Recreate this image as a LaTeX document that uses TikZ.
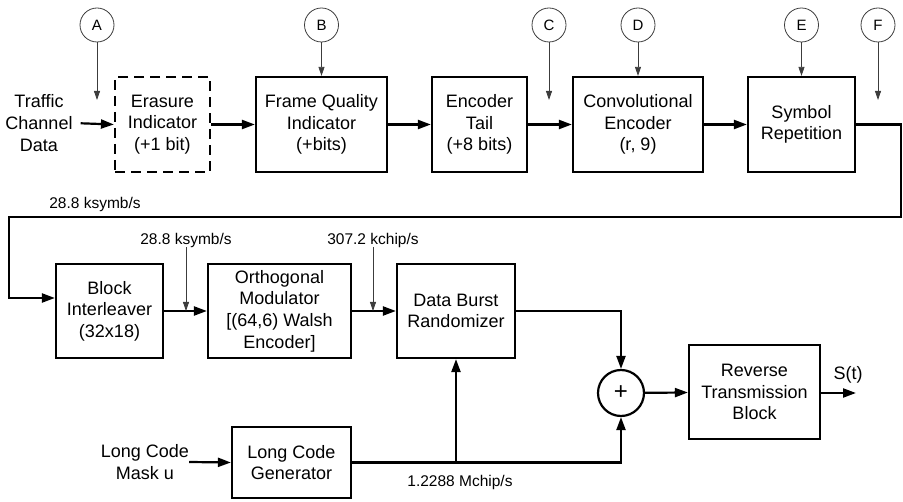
\documentclass[tikz,border=0pt]{standalone}
\usepackage{fontspec}
\setmainfont{Liberation Sans}
\usepackage{tikz}
\usetikzlibrary{arrows.meta, positioning, calc}
\definecolor{linha}{RGB}{0,0,0}
\definecolor{cinza}{RGB}{60,60,60}

\begin{document}
\begin{tikzpicture}[x=1pt, y=-1pt,
    bloco/.style={draw=linha, line width=2.2pt, align=center, inner sep=0pt, font=\fontsize{18}{21.6}\selectfont},
    blocotr/.style={bloco, dash pattern=on 10pt off 6pt},
    letra/.style={circle, draw=cinza, line width=0.8pt, minimum size=34pt, inner sep=0pt, font=\fontsize{15}{18}\selectfont},
    taxa/.style={inner sep=0pt, font=\fontsize{15.5}{18}\selectfont},
    texto/.style={align=center, inner sep=0pt, font=\fontsize{18}{21.6}\selectfont},
    seta/.style={-{Triangle[length=13pt, width=9pt]}, line width=2.2pt, linha},
    setafina/.style={-{Triangle[length=9pt, width=6pt]}, line width=0.8pt, cinza}
  ]
    \useasboundingbox (0,0) rectangle (903,502);

    % linha superior
    \node[texto] (trafego) at (39,123) {Traffic\\Channel\\Data};
    \node[blocotr, minimum width=95pt, minimum height=95pt] (apag) at (162.5,124.5) {Erasure\\Indicator\\(+1 bit)};
    \node[bloco, minimum width=131pt, minimum height=95pt] (fqi) at (321.5,124.5) {Frame Quality\\Indicator\\(+bits)};
    \node[bloco, minimum width=95pt, minimum height=95pt] (cauda) at (479.5,124.5) {Encoder\\Tail\\(+8 bits)};
    \node[bloco, minimum width=130pt, minimum height=95pt] (conv) at (638,124.5) {Convolutional\\Encoder\\(r, 9)};
    \node[bloco, minimum width=107pt, minimum height=95pt] (rep) at (801.5,124.5) {Symbol\\Repetition};

    \node[letra] (la) at (97,25) {A};
    \node[letra] (lb) at (321.5,25) {B};
    \node[letra] (lc) at (549,25) {C};
    \node[letra] (ld) at (638,25) {D};
    \node[letra] (le) at (801.5,25) {E};
    \node[letra] (lf) at (878,25) {F};
    \coordinate (pa) at (97,100);
    \coordinate (pc) at (549,100);
    \coordinate (pf) at (878,100);

    \draw[setafina] (la) -- (pa);
    \draw[setafina] (lb) -- (fqi.north);
    \draw[setafina] (lc) -- (pc);
    \draw[setafina] (ld) -- (conv.north);
    \draw[setafina] (le) -- (rep.north);
    \draw[setafina] (lf) -- (pf);

    \draw[seta, shorten <=8pt] (trafego.east) -- (apag.west);
    \draw[seta] (apag) -- (fqi);
    \draw[seta] (fqi) -- (cauda);
    \draw[seta] (cauda) -- (conv);
    \draw[seta] (conv) -- (rep);

    % retorno
    \coordinate (canto) at (901,217);
    \coordinate (volta) at (9,298);
    \node[taxa, anchor=south] (tx1) at (95,212) {28.8 ksymb/s};

    % linha do meio
    \node[bloco, minimum width=107pt, minimum height=94pt] (intl) at (109.5,311) {Block\\Interleaver\\(32x18)};
    \node[bloco, minimum width=143pt, minimum height=94pt] (orto) at (279.5,311) {Orthogonal\\Modulator\\{[}(64,6) Walsh\\Encoder{]}};
    \node[bloco, minimum width=118pt, minimum height=94pt] (rand) at (456,311) {Data Burst\\Randomizer};
    \node[taxa] (tx2) at (186,240) {28.8 ksymb/s};
    \node[taxa] (tx3) at (373,240) {307.2 kchip/s};

    \draw[seta] (rep.east) -| (canto) -| (volta) -- (volta -| intl.west);
    \draw[seta] (intl) -- (orto);
    \draw[seta] (orto) -- (rand);
    \draw[setafina] (tx2) -- (tx2 |- intl.east);
    \draw[setafina] (tx3) -- (tx3 |- orto.east);

    % soma e saida
    \node[circle, draw=linha, line width=2.2pt, minimum size=46pt, inner sep=0pt, font=\fontsize{24}{26}\selectfont] (soma) at (621,393) {+};
    \node[bloco, minimum width=131pt, minimum height=94pt] (rtb) at (754.5,392) {Reverse\\Transmission\\Block};
    \coordinate (saida) at (856,393);
    \node[texto] (st) at (848,375) {S(t)};

    \draw[seta] (rand.east) -| (soma.north);
    \draw[seta] (soma) -- (rtb);
    \draw[seta] (rtb.east |- soma.east) -- (saida);

    % codigo longo
    \node[texto] (mascara) at (145,462) {Long Code\\Mask u};
    \node[bloco, minimum width=119pt, minimum height=71pt] (lcg) at (291.5,462.5) {Long Code\\Generator};
    \node[taxa] (tx4) at (460,482) {1.2288 Mchip/s};

    \draw[seta] (mascara.east) -- (lcg.west);
    \draw[seta] (lcg.east) -| (soma.south);
    \draw[seta] (lcg.east -| rand.south) -- (rand.south);
  \end{tikzpicture}
\end{document}
